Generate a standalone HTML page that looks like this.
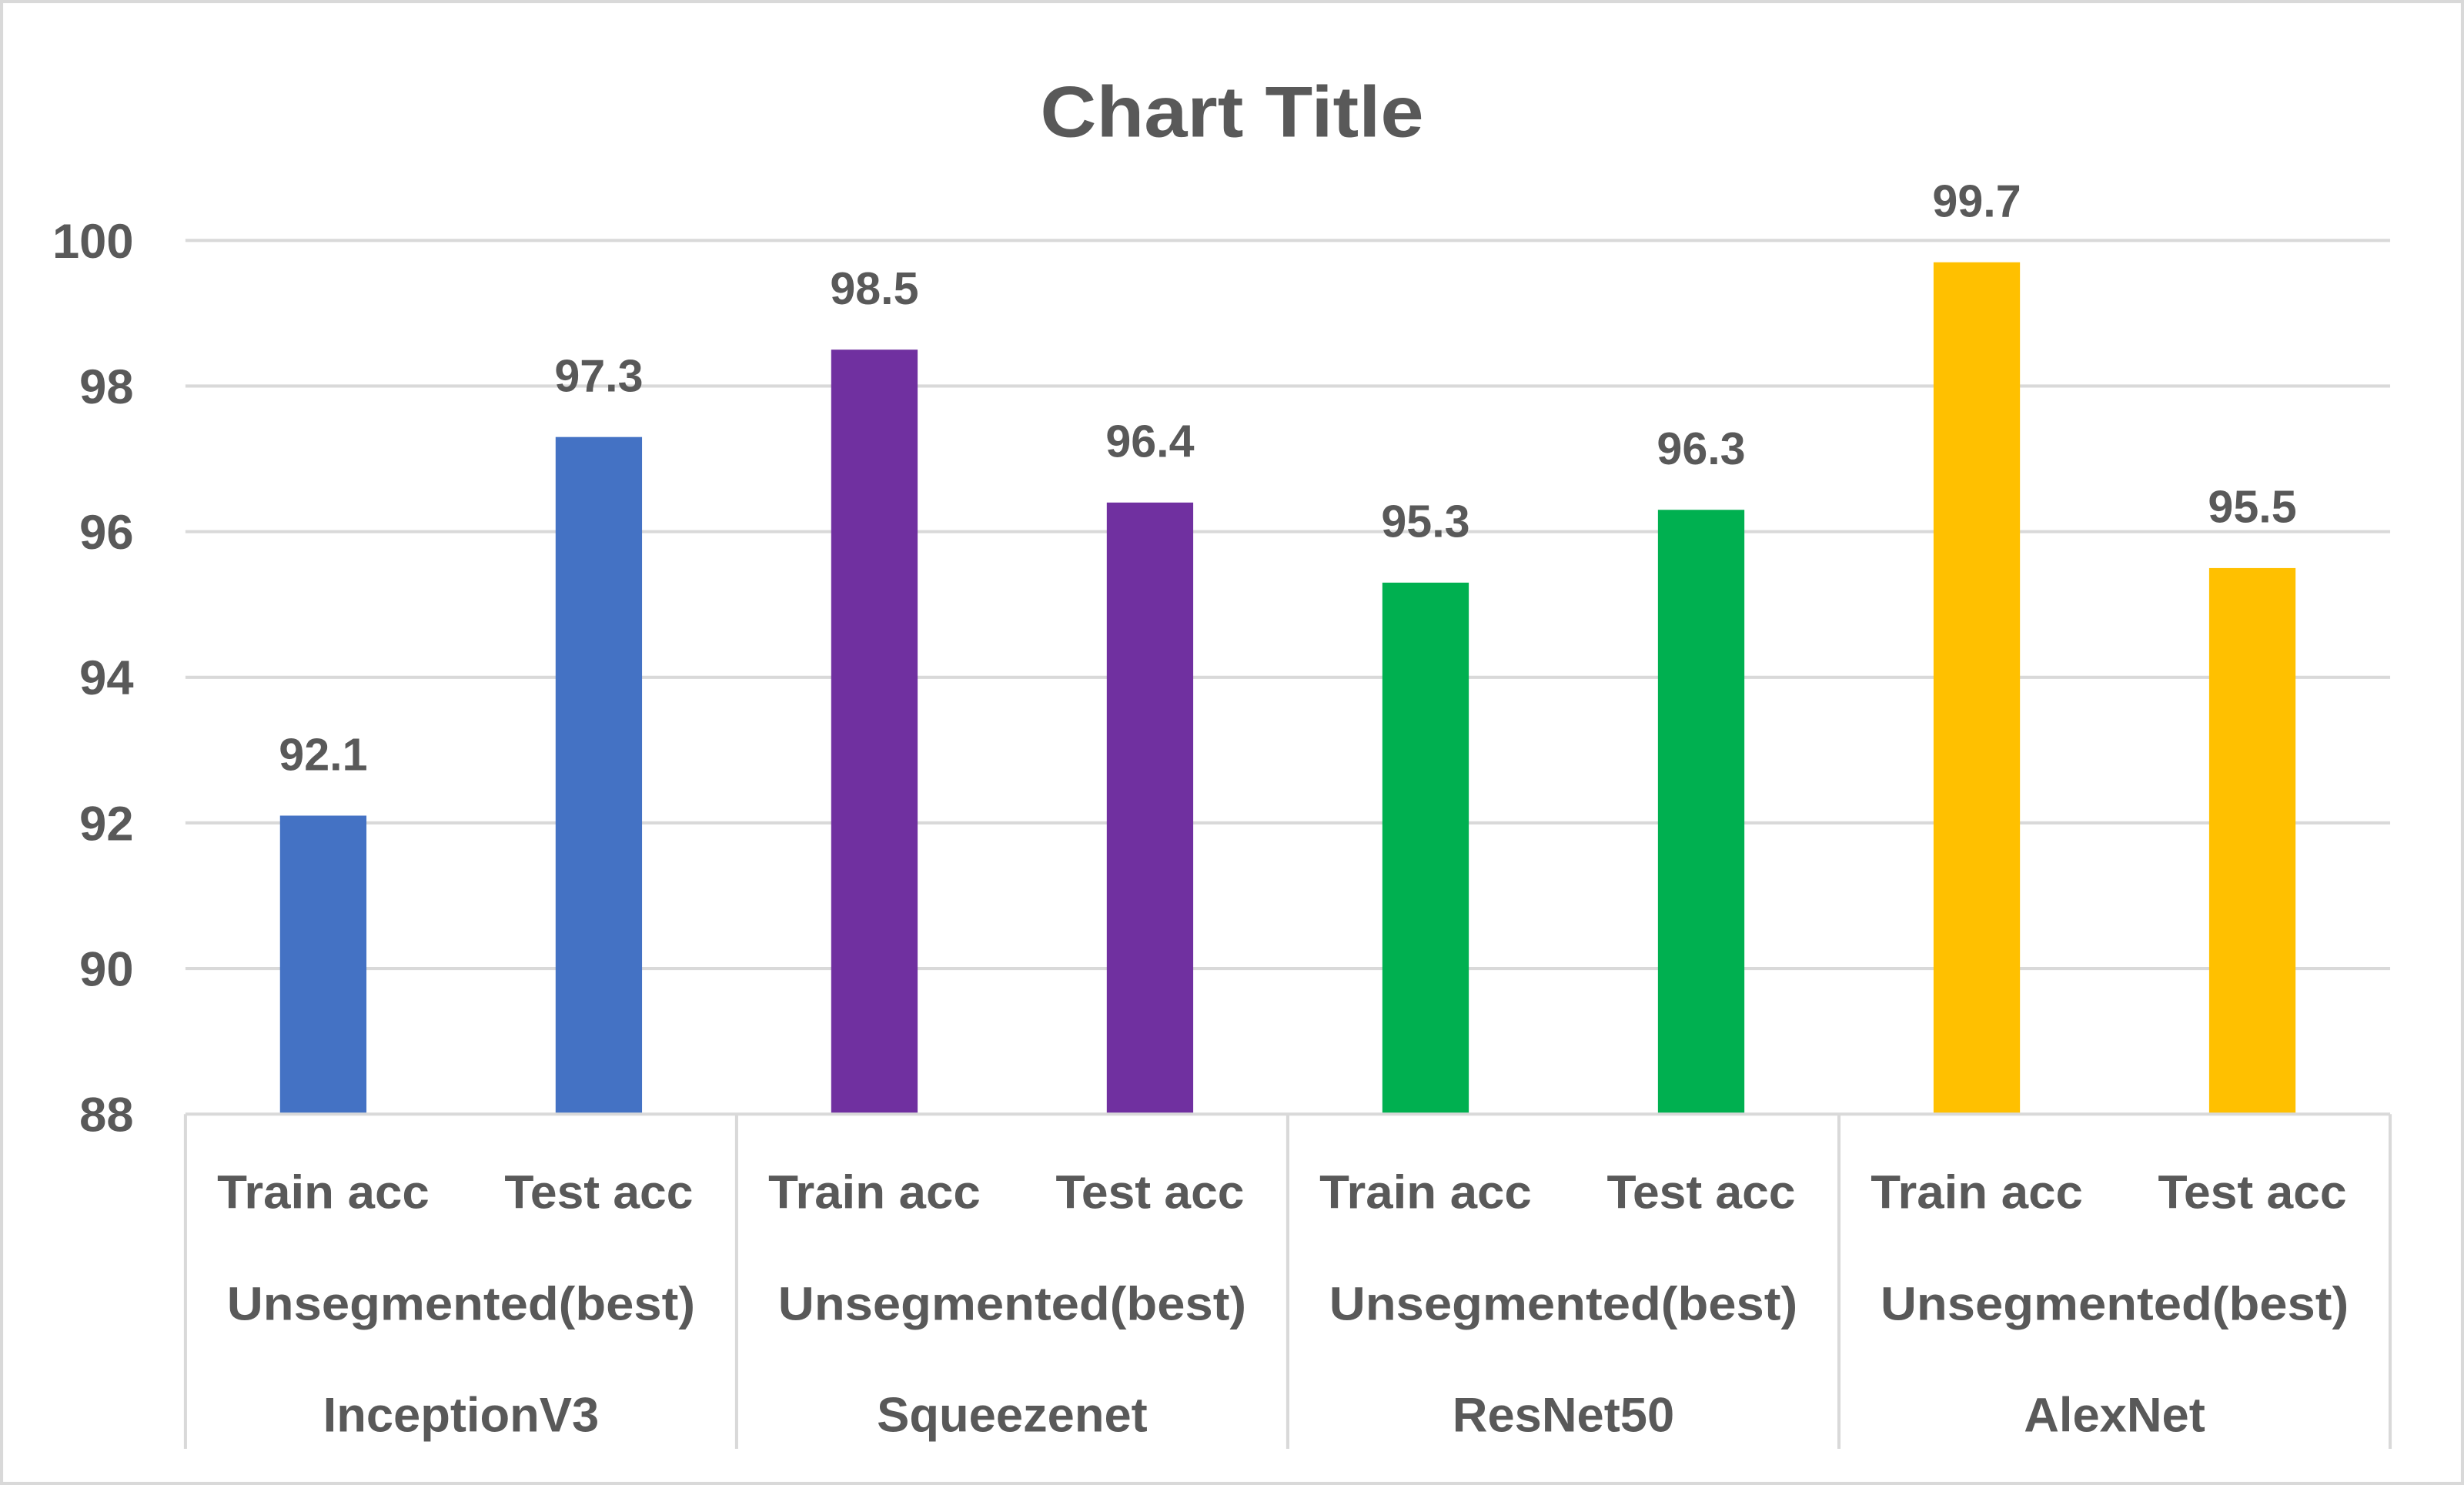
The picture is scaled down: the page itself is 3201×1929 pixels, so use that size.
<!DOCTYPE html>
<html><head><meta charset="utf-8"><style>
html,body{margin:0;padding:0;background:#fff}
svg{display:block}
text{font-family:"Liberation Sans",sans-serif;font-weight:bold;fill:#595959}
</style></head><body>
<svg id="chart" width="3201" height="1929" viewBox="0 0 1568 945" preserveAspectRatio="none" xmlns="http://www.w3.org/2000/svg">
<rect x="1" y="1" width="1566" height="943" fill="#fff" stroke="#d9d9d9" stroke-width="2"/>
<text x="784" y="87" text-anchor="middle" font-size="46" textLength="244" lengthAdjust="spacingAndGlyphs">Chart Title</text>
<g id="grid"></g><g id="bars"></g><g id="axis"></g>
</svg>
<script>
const categories=["Train acc","Test acc","Train acc","Test acc","Train acc","Test acc","Train acc","Test acc"];
const values=[92.1,97.3,98.5,96.4,95.3,96.3,99.7,95.5];
const colors=["#4472c4","#4472c4","#7030a0","#7030a0","#00b050","#00b050","#ffc000","#ffc000"];
const subGroups=["Unsegmented(best)","Unsegmented(best)","Unsegmented(best)","Unsegmented(best)"];
const models=["InceptionV3","Squeezenet","ResNet50","AlexNet"];
const ticks=[88,90,92,94,96,98,100];
const NS="http://www.w3.org/2000/svg";
const L=118,R=1521,T=153,B=709,yMin=88,yMax=100;
const y=v=>B-(v-yMin)/(yMax-yMin)*(B-T);
const step=(R-L)/categories.length;
const x=i=>L+step*(i+0.5);
function mk(tag,attrs,parent,txt){const e=document.createElementNS(NS,tag);for(const k in attrs)e.setAttribute(k,attrs[k]);if(txt!==undefined)e.textContent=txt;parent.appendChild(e);return e;}
const grid=document.getElementById('grid'),bars=document.getElementById('bars'),axis=document.getElementById('axis');
ticks.forEach(t=>{
 if(t!==yMin){const g=mk('line',{x1:L,x2:R,y1:y(t),y2:y(t),stroke:'#d9d9d9','stroke-width':2},grid);
 
 }
 const tl=mk('text',{x:85,y:y(t)+11,'text-anchor':'end','font-size':31},axis,String(t));
 
 
});
values.forEach((v,i)=>{
 const w=55;
 const r=mk('rect',{x:x(i)-w/2,y:y(v),width:w,height:B-y(v),fill:colors[i]},bars);
 
 
 const lb=mk('text',{x:x(i),y:y(v)-29,'text-anchor':'middle','font-size':29},bars,v.toFixed(1));
 
 
 const cl=mk('text',{x:x(i),y:769,'text-anchor':'middle','font-size':30,textLength:categories[i]==="Train acc"?135:120,lengthAdjust:'spacingAndGlyphs'},axis,categories[i]);
 
 
});
const xa=mk('line',{x1:L,x2:R,y1:B,y2:B,stroke:'#d9d9d9','stroke-width':2},axis);


for(let g=0;g<=models.length;g++){
 const gx=L+g*step*2;
 const d=mk('line',{x1:gx,x2:gx,y1:B,y2:922,stroke:'#d9d9d9','stroke-width':2},axis);
 
 
}
models.forEach((m,g)=>{
 const cx=L+step*(2*g+1);
 const s=mk('text',{x:cx,y:840,'text-anchor':'middle','font-size':30,textLength:298,lengthAdjust:'spacingAndGlyphs'},axis,subGroups[g]);
 
 
 const ml=mk('text',{x:cx,y:911,'text-anchor':'middle','font-size':31},axis,m);
 
 
});
</script>
</body></html>
